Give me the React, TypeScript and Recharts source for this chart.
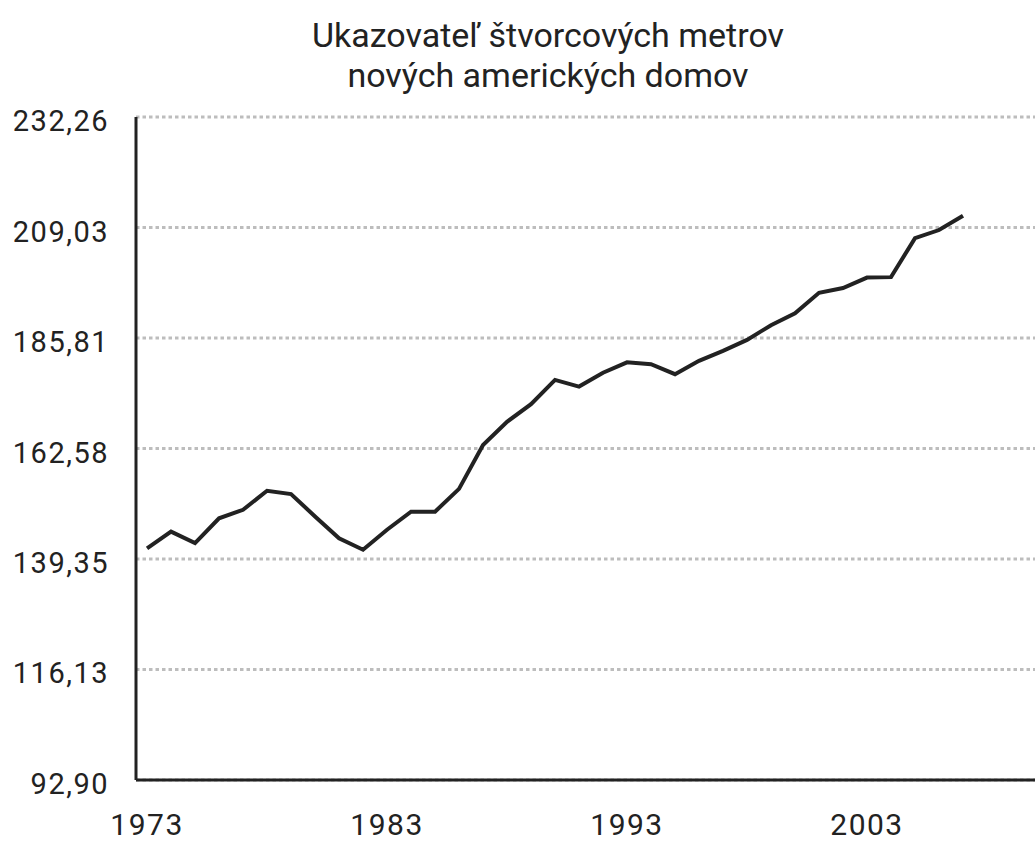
import React from 'react';
import { LineChart, Line, XAxis, YAxis, CartesianGrid } from 'recharts';

// Years and square metres per new US home
const years = [
  1973, 1974, 1975, 1976, 1977, 1978, 1979, 1980, 1981, 1982,
  1983, 1984, 1985, 1986, 1987, 1988, 1989, 1990, 1991, 1992,
  1993, 1994, 1995, 1996, 1997, 1998, 1999, 2000, 2001, 2002,
  2003, 2004, 2005, 2006, 2007,
];
const sqMeters = [
  141.6, 145.1, 142.7, 147.9, 149.7, 153.7, 153.0, 148.3, 143.7, 141.3,
  145.5, 149.3, 149.3, 154.1, 163.3, 168.2, 171.9, 177.0, 175.6, 178.5,
  180.7, 180.3, 178.2, 181.0, 183.1, 185.4, 188.5, 191.0, 195.3, 196.3,
  198.5, 198.6, 206.8, 208.5, 211.5,
];

const yTicks = [92.9, 116.13, 139.35, 162.58, 185.81, 209.03, 232.26];
const xTicks = [1973, 1983, 1993, 2003];
const titleLines = ['Ukazovateľ štvorcových metrov', 'nových amerických domov'];

const data = years.map((year, i) => ({ year, value: sqMeters[i] }));

const FONT = 'Roboto, "Noto Sans", sans-serif';
const INK = '#222222';

const fmt = (v: number) => v.toFixed(2).replace('.', ',');

// y labels: right-aligned, sitting a touch below the grid line
const YTick = (props: any) => {
  const { x, y, payload } = props;
  return (
    <text x={x} y={y} dy={14} textAnchor="end" fill={INK} fontSize={29} fontFamily={FONT} letterSpacing={1.5}>
      {fmt(payload.value)}
    </text>
  );
};

const XTick = (props: any) => {
  const { x, y, payload } = props;
  return (
    <text x={x} y={y} dy={29} textAnchor="middle" fill={INK} fontSize={30} fontFamily={FONT} letterSpacing={1.5}>
      {payload.value}
    </text>
  );
};

export default function App() {
  return (
    <div style={{ position: 'fixed', left: 0, top: 0, width: 1035, height: 841, background: '#fff', fontFamily: FONT }}>
      {/* title */}
      <div
        style={{
          position: 'absolute',
          left: 248,
          width: 600,
          top: 15,
          textAlign: 'center',
          fontSize: 34,
          lineHeight: '40px',
          color: INK,
          whiteSpace: 'nowrap',
        }}
      >
        {titleLines.map((t) => (
          <div key={t}>{t}</div>
        ))}
      </div>

      <LineChart width={1035} height={841} data={data} margin={{ top: 117, right: 0, bottom: 31, left: 0 }}>
        <CartesianGrid vertical={false} stroke="#bdbdbd" strokeWidth={3} strokeDasharray="3.5 3" />
        <XAxis
          dataKey="year"
          type="number"
          domain={[1972.54, 2010]}
          ticks={xTicks}
          allowDataOverflow
          height={30}
          tickSize={0}
          tickMargin={26}
          axisLine={{ stroke: INK, strokeWidth: 3 }}
          tick={<XTick />}
        />
        <YAxis
          type="number"
          domain={[92.9, 232.26]}
          ticks={yTicks}
          width={136}
          tickSize={0}
          tickMargin={27}
          axisLine={{ stroke: INK, strokeWidth: 3 }}
          tick={<YTick />}
        />
        <Line
          dataKey="value"
          type="linear"
          stroke={INK}
          strokeWidth={4}
          dot={false}
          activeDot={false}
          isAnimationActive={false}
        />
      </LineChart>
    </div>
  );
}
